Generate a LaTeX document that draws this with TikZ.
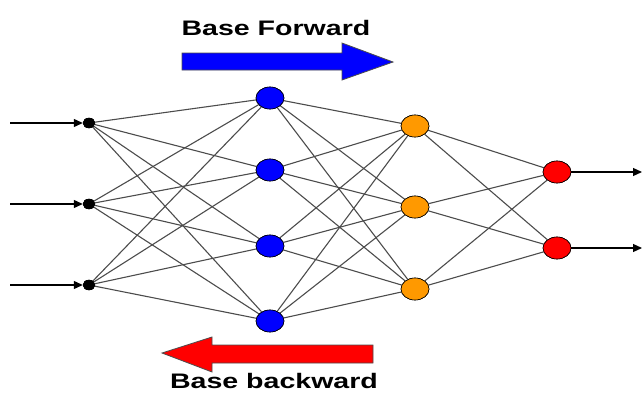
\documentclass[tikz,border=0pt]{standalone}
\usepackage{fontspec}
\setmainfont{Liberation Sans}
\usetikzlibrary{arrows.meta,shapes.geometric}
\definecolor{nblue}{RGB}{0,0,255}
\definecolor{norange}{RGB}{255,153,0}
\definecolor{nred}{RGB}{255,0,0}
\tikzset{
  neuron/.style={ellipse,draw=black,line width=0.6pt,minimum width=28pt,minimum height=22pt,inner sep=0pt},
  inneuron/.style={ellipse,fill=black,draw=black,minimum width=12pt,minimum height=10pt,inner sep=0pt},
  link/.style={draw=black!70,line width=1.1pt},
  io/.style={draw=black,line width=1.2pt,-{Triangle[length=9pt,width=8pt]}},
  bigarrow/.style={draw=black!70,line width=0.8pt},
  caption/.style={font=\bfseries\fontsize{21}{21}\selectfont,xscale=1.36,inner sep=0pt}
}
\begin{document}
\begin{tikzpicture}[x=1pt,y=-1pt]
\useasboundingbox (0,0) rectangle (643,394);
% neuron layers
\node[inneuron] (i1) at (89,123) {};
\node[inneuron] (i2) at (89,204) {};
\node[inneuron] (i3) at (89,285) {};
\node[neuron,fill=nblue] (h1) at (270,98) {};
\node[neuron,fill=nblue] (h2) at (270,170) {};
\node[neuron,fill=nblue] (h3) at (270,246) {};
\node[neuron,fill=nblue] (h4) at (270,321) {};
\node[neuron,fill=norange] (g1) at (415,126) {};
\node[neuron,fill=norange] (g2) at (415,207) {};
\node[neuron,fill=norange] (g3) at (415,289) {};
\node[neuron,fill=nred] (o1) at (557,172) {};
\node[neuron,fill=nred] (o2) at (557,248) {};
% fully connected links between layers
\foreach \a in {i1,i2,i3}
  \foreach \b in {h1,h2,h3,h4}
    \draw[link] (\a.center) -- (\b);
\foreach \a in {h1,h2,h3,h4}
  \foreach \b in {g1,g2,g3}
    \draw[link] (\a) -- (\b);
\foreach \a in {g1,g2,g3}
  \foreach \b in {o1,o2}
    \draw[link] (\a) -- (\b);
% redraw neurons above the links
\foreach \n/\c in {h1/nblue,h2/nblue,h3/nblue,h4/nblue,g1/norange,g2/norange,g3/norange,o1/nred,o2/nred}
  \node[neuron,fill=\c] at (\n) {};
\foreach \n in {i1,i2,i3}
  \node[inneuron] at (\n) {};
% inputs and outputs
\coordinate (s1) at (10,123);
\coordinate (s2) at (10,204);
\coordinate (s3) at (10,285);
\coordinate (e1) at (642,172);
\coordinate (e2) at (642,248);
\draw[io] (s1) -- (i1);
\draw[io] (s2) -- (i2);
\draw[io] (s3) -- (i3);
\draw[io] (o1) -- (e1);
\draw[io] (o2) -- (e2);
% direction arrows
\draw[bigarrow,fill=nblue] (182,53) -- (342,53) -- (342,43) -- (393,62) -- (342,80) -- (342,70) -- (182,70) -- cycle;
\draw[bigarrow,fill=nred] (373,345) -- (212,345) -- (212,337) -- (162,353) -- (212,372) -- (212,363) -- (373,363) -- cycle;
\node[caption] (fw) at (276,28) {Base Forward};
\node[caption] (bw) at (274,381) {Base backward};
\end{tikzpicture}
\end{document}
